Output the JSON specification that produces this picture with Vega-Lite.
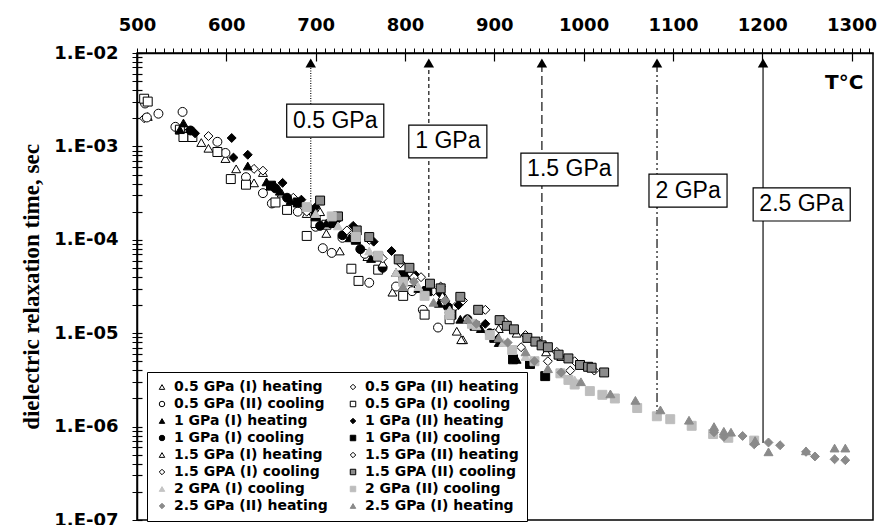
{
"$schema":"https://vega.github.io/schema/vega-lite/v6.json",
"width":736,"height":467,
"autosize":{"type":"none"},
"padding":{"left":137,"top":53,"right":4,"bottom":5},
"background":"white",
"config":{"view":{"stroke":"black","strokeWidth":1.5},"axis":{"grid":false}},
"datasets":{
"lines":[
{"p":"0.5 GPa","T":694.5,"top":7.8e-3,"bottom":2.54e-4,"bx1":667.6,"bx2":776.3,"by1":2.84e-3,"by2":1.26e-3,"tx":722,"ty":1.89e-3},
{"p":"1 GPa","T":826.7,"top":7.8e-3,"bottom":3.9e-5,"bx1":804.3,"bx2":891.7,"by1":1.69e-3,"by2":7.52e-4,"tx":848,"ty":1.13e-3},
{"p":"1.5 GPa","T":953.3,"top":7.8e-3,"bottom":7.85e-6,"bx1":929.8,"bx2":1038.5,"by1":8.49e-4,"by2":3.77e-4,"tx":984,"ty":5.66e-4},
{"p":"2 GPa","T":1082.2,"top":7.8e-3,"bottom":1.4e-6,"bx1":1073.2,"bx2":1160.6,"by1":5.06e-4,"by2":2.24e-4,"tx":1117,"ty":3.37e-4},
{"p":"2.5 GPa","T":1200.9,"top":7.8e-3,"bottom":6.67e-7,"bx1":1189.8,"bx2":1298.5,"by1":3.59e-4,"by2":1.59e-4,"tx":1244,"ty":2.39e-4}
],
"unit":[{"label":"T°C","T":1291.7,"tau":4.77e-3}],
"pts":[
{"s":"0.5 GPa (I) heating","T":512,"tau":2.09e-3},{"s":"0.5 GPa (I) heating","T":572,"tau":1.10e-3},{"s":"0.5 GPa (I) heating","T":580,"tau":9.55e-4},{"s":"0.5 GPa (I) heating","T":599,"tau":7.41e-4},{"s":"0.5 GPa (I) heating","T":611,"tau":5.75e-4},{"s":"0.5 GPa (I) heating","T":631,"tau":4.07e-4},{"s":"0.5 GPa (I) heating","T":641,"tau":5.25e-4},{"s":"0.5 GPa (I) heating","T":662,"tau":3.16e-4},{"s":"0.5 GPa (I) heating","T":690,"tau":1.91e-4},{"s":"0.5 GPa (I) heating","T":712,"tau":1.17e-4},{"s":"0.5 GPa (I) heating","T":727,"tau":7.59e-5},{"s":"0.5 GPa (I) heating","T":758,"tau":6.61e-5},{"s":"0.5 GPa (I) heating","T":786,"tau":2.75e-5},{"s":"0.5 GPa (I) heating","T":812,"tau":3.02e-5},{"s":"0.5 GPa (I) heating","T":845,"tau":2.40e-5},{"s":"0.5 GPa (I) heating","T":858,"tau":1.05e-5},{"s":"0.5 GPa (I) heating","T":865,"tau":8.51e-6},
{"s":"0.5 GPa (II) heating","T":508,"tau":2.00e-3},{"s":"0.5 GPa (II) heating","T":555,"tau":1.38e-3},{"s":"0.5 GPa (II) heating","T":580,"tau":1.29e-3},{"s":"0.5 GPa (II) heating","T":631,"tau":5.75e-4},{"s":"0.5 GPa (II) heating","T":641,"tau":5.50e-4},{"s":"0.5 GPa (II) heating","T":653,"tau":3.80e-4},{"s":"0.5 GPa (II) heating","T":675,"tau":2.82e-4},{"s":"0.5 GPa (II) heating","T":700,"tau":1.91e-4},{"s":"0.5 GPa (II) heating","T":736,"tau":1.12e-4},{"s":"0.5 GPa (II) heating","T":770,"tau":6.61e-5},{"s":"0.5 GPa (II) heating","T":803,"tau":3.80e-5},{"s":"0.5 GPa (II) heating","T":832,"tau":2.82e-5},{"s":"0.5 GPa (II) heating","T":856,"tau":1.91e-5},
{"s":"0.5 GPa (II) cooling","T":509,"tau":2.88e-3},{"s":"0.5 GPa (II) cooling","T":511,"tau":2.04e-3},{"s":"0.5 GPa (II) cooling","T":524,"tau":2.24e-3},{"s":"0.5 GPa (II) cooling","T":543,"tau":1.62e-3},{"s":"0.5 GPa (II) cooling","T":551,"tau":2.34e-3},{"s":"0.5 GPa (II) cooling","T":560,"tau":1.45e-3},{"s":"0.5 GPa (II) cooling","T":590,"tau":1.12e-3},{"s":"0.5 GPa (II) cooling","T":599,"tau":8.51e-4},{"s":"0.5 GPa (II) cooling","T":622,"tau":4.68e-4},{"s":"0.5 GPa (II) cooling","T":641,"tau":3.16e-4},{"s":"0.5 GPa (II) cooling","T":651,"tau":2.45e-4},{"s":"0.5 GPa (II) cooling","T":680,"tau":2.00e-4},{"s":"0.5 GPa (II) cooling","T":700,"tau":1.38e-4},{"s":"0.5 GPa (II) cooling","T":708,"tau":8.13e-5},{"s":"0.5 GPa (II) cooling","T":718,"tau":7.24e-5},{"s":"0.5 GPa (II) cooling","T":730,"tau":1.05e-4},{"s":"0.5 GPa (II) cooling","T":755,"tau":7.08e-5},{"s":"0.5 GPa (II) cooling","T":760,"tau":3.47e-5},{"s":"0.5 GPa (II) cooling","T":790,"tau":3.16e-5},{"s":"0.5 GPa (II) cooling","T":808,"tau":2.82e-5},{"s":"0.5 GPa (II) cooling","T":820,"tau":1.78e-5},{"s":"0.5 GPa (II) cooling","T":837,"tau":1.15e-5},{"s":"0.5 GPa (II) cooling","T":850,"tau":1.66e-5},
{"s":"0.5 GPa (I) cooling","T":508,"tau":3.24e-3},{"s":"0.5 GPa (I) cooling","T":512,"tau":3.02e-3},{"s":"0.5 GPa (I) cooling","T":548,"tau":1.51e-3},{"s":"0.5 GPa (I) cooling","T":552,"tau":1.26e-3},{"s":"0.5 GPa (I) cooling","T":562,"tau":1.26e-3},{"s":"0.5 GPa (I) cooling","T":590,"tau":8.71e-4},{"s":"0.5 GPa (I) cooling","T":605,"tau":4.47e-4},{"s":"0.5 GPa (I) cooling","T":622,"tau":3.89e-4},{"s":"0.5 GPa (I) cooling","T":655,"tau":2.51e-4},{"s":"0.5 GPa (I) cooling","T":668,"tau":2.09e-4},{"s":"0.5 GPa (I) cooling","T":690,"tau":1.10e-4},{"s":"0.5 GPa (I) cooling","T":700,"tau":1.51e-4},{"s":"0.5 GPa (I) cooling","T":712,"tau":1.45e-4},{"s":"0.5 GPa (I) cooling","T":740,"tau":4.90e-5},{"s":"0.5 GPa (I) cooling","T":748,"tau":3.63e-5},{"s":"0.5 GPa (I) cooling","T":770,"tau":4.79e-5},{"s":"0.5 GPa (I) cooling","T":798,"tau":2.51e-5},{"s":"0.5 GPa (I) cooling","T":822,"tau":1.58e-5},{"s":"0.5 GPa (I) cooling","T":850,"tau":1.41e-5},
{"s":"1 GPa (I)  heating","T":548,"tau":1.51e-3},{"s":"1 GPa (I)  heating","T":552,"tau":1.78e-3},{"s":"1 GPa (I)  heating","T":624,"tau":6.17e-4},{"s":"1 GPa (I)  heating","T":645,"tau":4.17e-4},{"s":"1 GPa (I)  heating","T":660,"tau":3.31e-4},{"s":"1 GPa (I)  heating","T":672,"tau":2.63e-4},{"s":"1 GPa (I)  heating","T":695,"tau":2.19e-4},{"s":"1 GPa (I)  heating","T":712,"tau":1.51e-4},{"s":"1 GPa (I)  heating","T":738,"tau":1.05e-4},{"s":"1 GPa (I)  heating","T":762,"tau":6.31e-5},{"s":"1 GPa (I)  heating","T":790,"tau":4.47e-5},{"s":"1 GPa (I)  heating","T":815,"tau":3.02e-5},{"s":"1 GPa (I)  heating","T":838,"tau":2.09e-5},{"s":"1 GPa (I)  heating","T":862,"tau":1.41e-5},{"s":"1 GPa (I)  heating","T":885,"tau":1.12e-5},{"s":"1 GPa (I)  heating","T":905,"tau":7.94e-6},{"s":"1 GPa (I)  heating","T":925,"tau":5.25e-6},
{"s":"1 GPa (II) heating","T":565,"tau":1.38e-3},{"s":"1 GPa (II) heating","T":606,"tau":1.23e-3},{"s":"1 GPa (II) heating","T":608,"tau":7.59e-4},{"s":"1 GPa (II) heating","T":624,"tau":8.13e-4},{"s":"1 GPa (II) heating","T":663,"tau":4.07e-4},{"s":"1 GPa (II) heating","T":684,"tau":2.69e-4},{"s":"1 GPa (II) heating","T":700,"tau":2.24e-4},{"s":"1 GPa (II) heating","T":725,"tau":1.66e-4},{"s":"1 GPa (II) heating","T":742,"tau":1.41e-4},{"s":"1 GPa (II) heating","T":765,"tau":9.55e-5},{"s":"1 GPa (II) heating","T":785,"tau":7.59e-5},{"s":"1 GPa (II) heating","T":795,"tau":5.62e-5},{"s":"1 GPa (II) heating","T":812,"tau":4.17e-5},{"s":"1 GPa (II) heating","T":840,"tau":2.63e-5},{"s":"1 GPa (II) heating","T":860,"tau":2.00e-5},{"s":"1 GPa (II) heating","T":890,"tau":1.26e-5},
{"s":"1 GPa (I) cooling","T":560,"tau":1.48e-3},{"s":"1 GPa (I) cooling","T":655,"tau":3.55e-4},{"s":"1 GPa (I) cooling","T":668,"tau":2.82e-4},{"s":"1 GPa (I) cooling","T":690,"tau":2.09e-4},{"s":"1 GPa (I) cooling","T":705,"tau":1.41e-4},{"s":"1 GPa (I) cooling","T":730,"tau":1.12e-4},{"s":"1 GPa (I) cooling","T":750,"tau":7.94e-5},{"s":"1 GPa (I) cooling","T":775,"tau":5.01e-5},{"s":"1 GPa (I) cooling","T":800,"tau":3.80e-5},{"s":"1 GPa (I) cooling","T":822,"tau":2.82e-5},{"s":"1 GPa (I) cooling","T":848,"tau":1.91e-5},{"s":"1 GPa (I) cooling","T":870,"tau":1.41e-5},{"s":"1 GPa (I) cooling","T":895,"tau":1.00e-5},
{"s":"1 GPa (II) cooling","T":650,"tau":3.80e-4},{"s":"1 GPa (II) cooling","T":680,"tau":2.51e-4},{"s":"1 GPa (II) cooling","T":700,"tau":1.78e-4},{"s":"1 GPa (II) cooling","T":720,"tau":1.51e-4},{"s":"1 GPa (II) cooling","T":745,"tau":1.00e-4},{"s":"1 GPa (II) cooling","T":770,"tau":6.61e-5},{"s":"1 GPa (II) cooling","T":798,"tau":4.17e-5},{"s":"1 GPa (II) cooling","T":825,"tau":2.82e-5},{"s":"1 GPa (II) cooling","T":852,"tau":1.58e-5},{"s":"1 GPa (II) cooling","T":878,"tau":1.20e-5},{"s":"1 GPa (II) cooling","T":900,"tau":8.91e-6},{"s":"1 GPa (II) cooling","T":921,"tau":5.25e-6},{"s":"1 GPa (II) cooling","T":940,"tau":4.68e-6},{"s":"1 GPa (II) cooling","T":957,"tau":3.47e-6},
{"s":"1.5 GPa (I) heating","T":705,"tau":2.00e-4},{"s":"1.5 GPa (I) heating","T":745,"tau":1.12e-4},{"s":"1.5 GPa (I) heating","T":775,"tau":5.62e-5},{"s":"1.5 GPa (I) heating","T":805,"tau":3.55e-5},{"s":"1.5 GPa (I) heating","T":842,"tau":2.51e-5},{"s":"1.5 GPa (I) heating","T":863,"tau":8.51e-6},{"s":"1.5 GPa (I) heating","T":905,"tau":1.12e-5},{"s":"1.5 GPa (I) heating","T":925,"tau":1.00e-5},{"s":"1.5 GPa (I) heating","T":958,"tau":6.31e-6},{"s":"1.5 GPa (I) heating","T":975,"tau":5.62e-6},
{"s":"1.5 GPa (II) heating","T":720,"tau":1.78e-4},{"s":"1.5 GPa (II) heating","T":760,"tau":1.00e-4},{"s":"1.5 GPa (II) heating","T":795,"tau":5.62e-5},{"s":"1.5 GPa (II) heating","T":818,"tau":3.98e-5},{"s":"1.5 GPa (II) heating","T":840,"tau":3.16e-5},{"s":"1.5 GPa (II) heating","T":865,"tau":2.24e-5},{"s":"1.5 GPa (II) heating","T":890,"tau":1.78e-5},{"s":"1.5 GPa (II) heating","T":912,"tau":1.32e-5},{"s":"1.5 GPa (II) heating","T":935,"tau":9.55e-6},{"s":"1.5 GPa (II) heating","T":950,"tau":7.94e-6},{"s":"1.5 GPa (II) heating","T":970,"tau":6.31e-6},{"s":"1.5 GPa (II) heating","T":990,"tau":5.01e-6},{"s":"1.5 GPa (II) heating","T":1012,"tau":3.98e-6},
{"s":"1.5 GPA (I) cooling","T":690,"tau":2.00e-4},{"s":"1.5 GPA (I) cooling","T":735,"tau":1.26e-4},{"s":"1.5 GPA (I) cooling","T":775,"tau":6.31e-5},{"s":"1.5 GPA (I) cooling","T":810,"tau":3.98e-5},{"s":"1.5 GPA (I) cooling","T":845,"tau":2.24e-5},{"s":"1.5 GPA (I) cooling","T":870,"tau":1.41e-5},{"s":"1.5 GPA (I) cooling","T":900,"tau":1.00e-5},{"s":"1.5 GPA (I) cooling","T":930,"tau":7.08e-6},{"s":"1.5 GPA (I) cooling","T":960,"tau":5.01e-6},{"s":"1.5 GPA (I) cooling","T":985,"tau":3.98e-6},
{"s":"1.5 GPA (II) cooling","T":705,"tau":2.63e-4},{"s":"1.5 GPA (II) cooling","T":725,"tau":1.78e-4},{"s":"1.5 GPA (II) cooling","T":746,"tau":1.26e-4},{"s":"1.5 GPA (II) cooling","T":760,"tau":1.07e-4},{"s":"1.5 GPA (II) cooling","T":793,"tau":6.17e-5},{"s":"1.5 GPA (II) cooling","T":805,"tau":5.01e-5},{"s":"1.5 GPA (II) cooling","T":828,"tau":3.39e-5},{"s":"1.5 GPA (II) cooling","T":840,"tau":3.02e-5},{"s":"1.5 GPA (II) cooling","T":862,"tau":2.45e-5},{"s":"1.5 GPA (II) cooling","T":882,"tau":1.78e-5},{"s":"1.5 GPA (II) cooling","T":906,"tau":1.38e-5},{"s":"1.5 GPA (II) cooling","T":914,"tau":1.20e-5},{"s":"1.5 GPA (II) cooling","T":922,"tau":1.10e-5},{"s":"1.5 GPA (II) cooling","T":937,"tau":8.91e-6},{"s":"1.5 GPA (II) cooling","T":946,"tau":8.13e-6},{"s":"1.5 GPA (II) cooling","T":953,"tau":7.41e-6},{"s":"1.5 GPA (II) cooling","T":960,"tau":7.08e-6},{"s":"1.5 GPA (II) cooling","T":972,"tau":5.89e-6},{"s":"1.5 GPA (II) cooling","T":983,"tau":5.37e-6},{"s":"1.5 GPA (II) cooling","T":996,"tau":4.57e-6},{"s":"1.5 GPA (II) cooling","T":1005,"tau":4.37e-6},{"s":"1.5 GPA (II) cooling","T":1009,"tau":4.27e-6},{"s":"1.5 GPA (II) cooling","T":1023,"tau":3.80e-6},
{"s":"2 GPA (I) cooling","T":700,"tau":1.91e-4},{"s":"2 GPA (I) cooling","T":725,"tau":1.41e-4},{"s":"2 GPA (I) cooling","T":760,"tau":7.59e-5},{"s":"2 GPA (I) cooling","T":790,"tau":4.47e-5},{"s":"2 GPA (I) cooling","T":815,"tau":3.16e-5},{"s":"2 GPA (I) cooling","T":850,"tau":1.78e-5},{"s":"2 GPA (I) cooling","T":880,"tau":1.20e-5},{"s":"2 GPA (I) cooling","T":910,"tau":7.94e-6},{"s":"2 GPA (I) cooling","T":935,"tau":5.62e-6},{"s":"2 GPA (I) cooling","T":960,"tau":4.17e-6},{"s":"2 GPA (I) cooling","T":990,"tau":3.16e-6},
{"s":"2 GPa (II) cooling","T":690,"tau":2.24e-4},{"s":"2 GPa (II) cooling","T":718,"tau":1.78e-4},{"s":"2 GPa (II) cooling","T":745,"tau":1.07e-4},{"s":"2 GPa (II) cooling","T":770,"tau":6.76e-5},{"s":"2 GPa (II) cooling","T":798,"tau":3.55e-5},{"s":"2 GPa (II) cooling","T":822,"tau":2.51e-5},{"s":"2 GPa (II) cooling","T":850,"tau":1.58e-5},{"s":"2 GPa (II) cooling","T":875,"tau":1.26e-5},{"s":"2 GPa (II) cooling","T":895,"tau":9.55e-6},{"s":"2 GPa (II) cooling","T":920,"tau":6.61e-6},{"s":"2 GPa (II) cooling","T":945,"tau":5.01e-6},{"s":"2 GPa (II) cooling","T":974,"tau":3.72e-6},{"s":"2 GPa (II) cooling","T":983,"tau":3.16e-6},{"s":"2 GPa (II) cooling","T":990,"tau":2.82e-6},{"s":"2 GPa (II) cooling","T":1007,"tau":2.40e-6},{"s":"2 GPa (II) cooling","T":1021,"tau":2.19e-6},{"s":"2 GPa (II) cooling","T":1035,"tau":2.00e-6},{"s":"2 GPa (II) cooling","T":1060,"tau":1.58e-6},{"s":"2 GPa (II) cooling","T":1082,"tau":1.29e-6},{"s":"2 GPa (II) cooling","T":1097,"tau":1.20e-6},{"s":"2 GPa (II) cooling","T":1121,"tau":1.02e-6},{"s":"2 GPa (II) cooling","T":1145,"tau":8.32e-7},{"s":"2 GPa (II) cooling","T":1162,"tau":7.59e-7},{"s":"2 GPa (II) cooling","T":1191,"tau":7.08e-7},
{"s":"2.5 GPa (II) heating","T":810,"tau":3.55e-5},{"s":"2.5 GPa (II) heating","T":845,"tau":2.24e-5},{"s":"2.5 GPa (II) heating","T":880,"tau":1.26e-5},{"s":"2.5 GPa (II) heating","T":915,"tau":7.94e-6},{"s":"2.5 GPa (II) heating","T":945,"tau":5.01e-6},{"s":"2.5 GPa (II) heating","T":975,"tau":3.80e-6},{"s":"2.5 GPa (II) heating","T":1146,"tau":8.71e-7},{"s":"2.5 GPa (II) heating","T":1157,"tau":7.76e-7},{"s":"2.5 GPa (II) heating","T":1178,"tau":7.94e-7},{"s":"2.5 GPa (II) heating","T":1191,"tau":6.46e-7},{"s":"2.5 GPa (II) heating","T":1207,"tau":6.76e-7},{"s":"2.5 GPa (II) heating","T":1220,"tau":6.31e-7},{"s":"2.5 GPa (II) heating","T":1249,"tau":5.37e-7},{"s":"2.5 GPa (II) heating","T":1259,"tau":4.79e-7},{"s":"2.5 GPa (II) heating","T":1281,"tau":4.47e-7},{"s":"2.5 GPa (II) heating","T":1293,"tau":4.37e-7},
{"s":"2.5 GPa (I) heating","T":798,"tau":3.16e-5},{"s":"2.5 GPa (I) heating","T":832,"tau":2.14e-5},{"s":"2.5 GPa (I) heating","T":870,"tau":1.41e-5},{"s":"2.5 GPa (I) heating","T":905,"tau":8.91e-6},{"s":"2.5 GPa (I) heating","T":935,"tau":6.31e-6},{"s":"2.5 GPa (I) heating","T":960,"tau":4.17e-6},{"s":"2.5 GPa (I) heating","T":997,"tau":3.02e-6},{"s":"2.5 GPa (I) heating","T":1030,"tau":2.24e-6},{"s":"2.5 GPa (I) heating","T":1058,"tau":1.91e-6},{"s":"2.5 GPa (I) heating","T":1086,"tau":1.51e-6},{"s":"2.5 GPa (I) heating","T":1118,"tau":1.17e-6},{"s":"2.5 GPa (I) heating","T":1146,"tau":1.00e-6},{"s":"2.5 GPa (I) heating","T":1157,"tau":8.91e-7},{"s":"2.5 GPa (I) heating","T":1165,"tau":8.71e-7},{"s":"2.5 GPa (I) heating","T":1192,"tau":7.08e-7},{"s":"2.5 GPa (I) heating","T":1207,"tau":5.37e-7},{"s":"2.5 GPa (I) heating","T":1249,"tau":5.50e-7},{"s":"2.5 GPa (I) heating","T":1281,"tau":5.89e-7},{"s":"2.5 GPa (I) heating","T":1293,"tau":5.89e-7}
]
},
"resolve":{"axis":{"x":"independent","y":"independent"}},
"layer":[
{
"data":{"name":"lines"},
"mark":{"type":"rule","color":"#222222","strokeWidth":1.3},
"encoding":{
"x":{"field":"T","type":"quantitative","scale":{"domain":[500,1324],"nice":false,"zero":false},
"axis":{"orient":"top","values":[500,600,700,800,900,1000,1100,1200,1300],"tickSize":-8,"labels":false,"domain":false,"title":null,"tickColor":"black","tickWidth":1.2}},
"y":{"field":"top","type":"quantitative","scale":{"type":"log","domain":[1e-7,1e-2],"nice":false},
"axis":{"orient":"left","values":[1e-7,2e-7,3e-7,4e-7,5e-7,6e-7,7e-7,8e-7,9e-7,1e-6,2e-6,3e-6,4e-6,5e-6,6e-6,7e-6,8e-6,9e-6,1e-5,2e-5,3e-5,4e-5,5e-5,6e-5,7e-5,8e-5,9e-5,1e-4,2e-4,3e-4,4e-4,5e-4,6e-4,7e-4,8e-4,9e-4,1e-3,2e-3,3e-3,4e-3,5e-3,6e-3,7e-3,8e-3,9e-3,1e-2],"tickSize":-5,"labels":false,"domain":false,"title":null,"tickColor":"black","tickWidth":1.2}},
"y2":{"field":"bottom"},
"strokeDash":{"field":"p","type":"nominal","scale":{"domain":["0.5 GPa","1 GPa","1.5 GPa","2 GPa","2.5 GPa"],"range":[[1,1.5],[4,3],[9,4],[9,3,2,3,2,3],[1,0]]},"legend":null}
}
},
{
"data":{"name":"lines"},
"mark":{"type":"rect","fill":"white","stroke":"black","strokeWidth":1.2},
"encoding":{
"x":{"field":"bx1","type":"quantitative","axis":null},
"x2":{"field":"bx2"},
"y":{"field":"by1","type":"quantitative","axis":null},
"y2":{"field":"by2"}
}
},
{
"data":{"name":"lines"},
"mark":{"type":"text","font":"Liberation Sans","fontSize":23,"color":"black","align":"center","baseline":"middle"},
"encoding":{
"x":{"field":"tx","type":"quantitative","axis":null},
"y":{"field":"ty","type":"quantitative","axis":null},
"text":{"field":"p"}
}
},
{
"data":{"name":"lines"},
"mark":{"type":"point","shape":"triangle-up","filled":true,"color":"black","size":110,"opacity":1},
"encoding":{
"x":{"field":"T","type":"quantitative","axis":null},
"y":{"field":"top","type":"quantitative","axis":null}
}
},
{
"data":{"name":"unit"},
"mark":{"type":"text","font":"DejaVu Sans","fontWeight":"bold","fontSize":20,"color":"black","align":"center","baseline":"middle"},
"encoding":{
"x":{"field":"T","type":"quantitative","axis":null},
"y":{"field":"tau","type":"quantitative","axis":null},
"text":{"field":"label"}
}
},
{
"data":{"name":"pts"},
"mark":{"type":"point","size":80,"opacity":1},
"encoding":{
"x":{"field":"T","type":"quantitative","scale":{"domain":[500,1324],"nice":false,"zero":false},
"axis":{"orient":"top","values":[500,510,520,530,540,550,560,570,580,590,600,610,620,630,640,650,660,670,680,690,700,710,720,730,740,750,760,770,780,790,800,810,820,830,840,850,860,870,880,890,900,910,920,930,940,950,960,970,980,990,1000,1010,1020,1030,1040,1050,1060,1070,1080,1090,1100,1110,1120,1130,1140,1150,1160,1170,1180,1190,1200,1210,1220,1230,1240,1250,1260,1270,1280,1290,1300,1310,1320],
"format":"d","labelExpr":"datum.value % 100 === 0 ? datum.label : ''","tickSize":5,"labelPadding":14,"labelFont":"DejaVu Sans","labelFontWeight":"bold","labelFontSize":18,"labelColor":"black","tickColor":"black","domainColor":"black","domainWidth":1.5,"title":null,"labelFlush":false,"labelOverlap":false,"labelBound":false}},
"y":{"field":"tau","type":"quantitative","scale":{"type":"log","domain":[1e-7,1e-2],"nice":false},
"axis":{"orient":"left","values":[1e-7,2e-7,3e-7,4e-7,5e-7,6e-7,7e-7,8e-7,9e-7,1e-6,2e-6,3e-6,4e-6,5e-6,6e-6,7e-6,8e-6,9e-6,1e-5,2e-5,3e-5,4e-5,5e-5,6e-5,7e-5,8e-5,9e-5,1e-4,2e-4,3e-4,4e-4,5e-4,6e-4,7e-4,8e-4,9e-4,1e-3,2e-3,3e-3,4e-3,5e-3,6e-3,7e-3,8e-3,9e-3,1e-2],
"labelExpr":"abs(log(datum.value)/LN10 - round(log(datum.value)/LN10)) < 0.01 ? '1.E-0' + round(-log(datum.value)/LN10) : ''","tickSize":5,"labelPadding":14,"labelFont":"DejaVu Sans","labelFontWeight":"bold","labelFontSize":18,"labelColor":"black","tickColor":"black","domainColor":"black","domainWidth":1.5,"labelOverlap":false,"labelFlush":false,"labelBound":false,
"title":"dielectric relaxation time, sec","titleFont":"Liberation Serif","titleFontWeight":"bold","titleFontSize":23,"titleColor":"black","titlePadding":10}},
"shape":{"field":"s","type":"nominal","scale":{"domain":["0.5 GPa (I) heating","0.5 GPa (II) cooling","1 GPa (I)  heating","1 GPa (I) cooling","1.5 GPa (I) heating","1.5 GPA (I) cooling","2 GPA (I) cooling","2.5 GPa (II) heating","0.5 GPa (II) heating","0.5 GPa (I) cooling","1 GPa (II) heating","1 GPa (II) cooling","1.5 GPa (II) heating","1.5 GPA (II) cooling","2 GPa (II) cooling","2.5 GPa (I) heating"],
"range":["triangle-up","circle","triangle-up","circle","triangle-up","diamond","triangle-up","diamond","diamond","square","diamond","square","diamond","square","square","triangle-up"]},
"legend":{"title":null,"orient":"none","legendX":10,"legendY":319,"columns":2,"columnPadding":18,"rowPadding":3,"padding":8,"strokeColor":"black","fillColor":"white","labelFont":"DejaVu Sans","labelFontWeight":"bold","labelFontSize":14,"labelColor":"black","labelLimit":300,"labelOffset":5,"symbolSize":30}},
"fill":{"field":"s","type":"nominal","scale":{"domain":["0.5 GPa (I) heating","0.5 GPa (II) cooling","1 GPa (I)  heating","1 GPa (I) cooling","1.5 GPa (I) heating","1.5 GPA (I) cooling","2 GPA (I) cooling","2.5 GPa (II) heating","0.5 GPa (II) heating","0.5 GPa (I) cooling","1 GPa (II) heating","1 GPa (II) cooling","1.5 GPa (II) heating","1.5 GPA (II) cooling","2 GPa (II) cooling","2.5 GPa (I) heating"],
"range":["white","white","black","black","white","white","#c4c4c4","#8a8a8a","white","white","black","black","white","#8c8c8c","#bdbdbd","#8a8a8a"]}},
"stroke":{"field":"s","type":"nominal","scale":{"domain":["0.5 GPa (I) heating","0.5 GPa (II) cooling","1 GPa (I)  heating","1 GPa (I) cooling","1.5 GPa (I) heating","1.5 GPA (I) cooling","2 GPA (I) cooling","2.5 GPa (II) heating","0.5 GPa (II) heating","0.5 GPa (I) cooling","1 GPa (II) heating","1 GPa (II) cooling","1.5 GPa (II) heating","1.5 GPA (II) cooling","2 GPa (II) cooling","2.5 GPa (I) heating"],
"range":["black","black","black","black","black","black","#c4c4c4","#8a8a8a","black","black","black","black","black","black","#bdbdbd","#8a8a8a"]}},
"strokeWidth":{"field":"s","type":"nominal","scale":{"domain":["0.5 GPa (I) heating","0.5 GPa (II) cooling","1 GPa (I)  heating","1 GPa (I) cooling","1.5 GPa (I) heating","1.5 GPA (I) cooling","2 GPA (I) cooling","2.5 GPa (II) heating","0.5 GPa (II) heating","0.5 GPa (I) cooling","1 GPa (II) heating","1 GPa (II) cooling","1.5 GPa (II) heating","1.5 GPA (II) cooling","2 GPa (II) cooling","2.5 GPa (I) heating"],
"range":[1,1,1,1,1.8,1.8,1,1,1,1,1,1,1.8,1.8,1,1]}}
}
}
]
}
